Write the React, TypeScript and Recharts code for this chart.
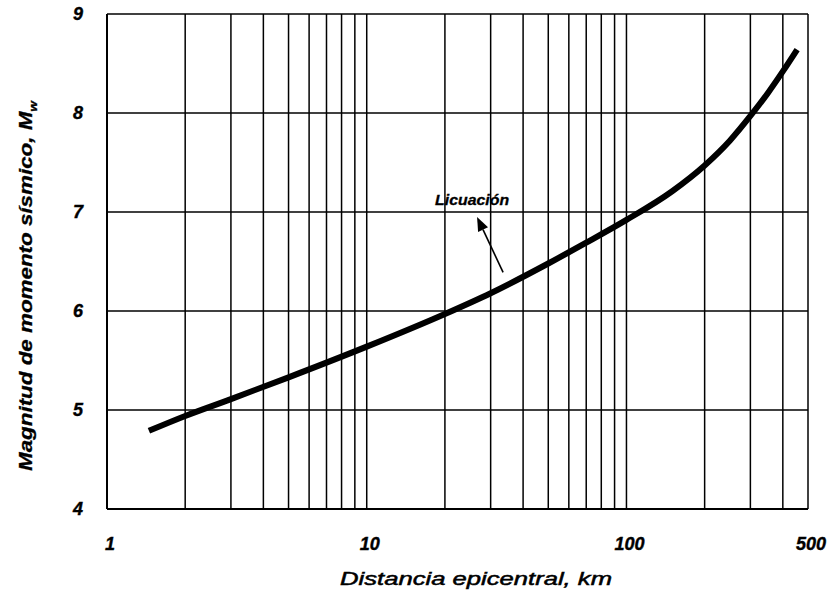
import { LineChart, Line, XAxis, YAxis, CartesianGrid, ReferenceLine } from "recharts";

// distance (km) vs. magnitude
const distances = [1.45, 2, 3, 5, 10, 20, 30, 50, 70, 100, 150, 200, 250, 300, 350, 400, 454];
const magnitudes = [4.79, 4.94, 5.11, 5.33, 5.64, 5.97, 6.18, 6.48, 6.69, 6.92, 7.21, 7.47, 7.72, 7.97, 8.2, 8.42, 8.64];

const gridX = [1, 2, 3, 4, 5, 6, 7, 8, 9, 10, 20, 30, 40, 50, 60, 70, 80, 90, 100, 200, 300, 400, 500];
const labelledX = [1, 10, 100, 500];
const yTicks = [4, 5, 6, 7, 8, 9];

// arrow from the curve to the "Licuación" note
const arrowFrom = { x: 33.5, y: 6.39 };
const arrowTo = { x: 26.6, y: 6.95 };

const data = distances.map((x, i) => ({ x, m: magnitudes[i] }));

const FONT = "'Liberation Sans', Arial, sans-serif";

const XTick = (props: any) => {
  const { x, payload } = props;
  if (!labelledX.includes(payload.value)) return null;
  return (
    <text
      x={x + 3}
      y={550}
      textAnchor="middle"
      fontFamily={FONT}
      fontSize={18}
      fontWeight="bold"
      fontStyle="italic"
      fill="#000"
      stroke="#000"
      strokeWidth={0.4}
    >
      {payload.value}
    </text>
  );
};

const YTick = (props: any) => {
  const { y, payload } = props;
  return (
    <text
      x={83}
      y={y + 6}
      textAnchor="end"
      fontFamily={FONT}
      fontSize={18}
      fontWeight="bold"
      fontStyle="italic"
      fill="#000"
      stroke="#000"
      strokeWidth={0.4}
    >
      {payload.value}
    </text>
  );
};

const Arrow = (props: any) => {
  const { x1, y1, x2, y2 } = props;
  // head sits at (x2, y2)
  const ang = Math.atan2(y2 - y1, x2 - x1);
  const len = 14;
  const w = 5.5;
  const bx = x2 - len * Math.cos(ang);
  const by = y2 - len * Math.sin(ang);
  const px = -Math.sin(ang) * w;
  const py = Math.cos(ang) * w;
  return (
    <g>
      <line x1={x1} y1={y1} x2={bx} y2={by} stroke="#000" strokeWidth={1.6} />
      <polygon points={`${x2},${y2} ${bx + px},${by + py} ${bx - px},${by - py}`} fill="#000" />
      <text
        x={x2 - 42}
        y={y2 - 12}
        fontFamily={FONT}
        fontSize={14}
        fontWeight="bold"
        fontStyle="italic"
        textLength={74}
        lengthAdjust="spacingAndGlyphs"
        fill="#000"
        stroke="#000"
        strokeWidth={0.3}
      >
        Licuación
      </text>
    </g>
  );
};

export default function App() {
  return (
    <div style={{ position: "absolute", left: 0, top: 0, width: 830, height: 595, background: "#fff" }}>
      <LineChart width={830} height={595} data={data} margin={{ top: 14, right: 22, bottom: 0, left: 0 }}>
        <CartesianGrid stroke="#000" strokeWidth={1.5} />
        <XAxis
          dataKey="x"
          type="number"
          scale="log"
          domain={[1, 500]}
          ticks={gridX}
          interval={0}
          allowDataOverflow
          tick={<XTick />}
          tickLine={false}
          axisLine={{ stroke: "#000", strokeWidth: 2 }}
          height={86}
        />
        <YAxis
          type="number"
          domain={[4, 9]}
          ticks={yTicks}
          interval={0}
          tick={<YTick />}
          tickLine={false}
          axisLine={{ stroke: "#000", strokeWidth: 2 }}
          width={107}
        />
        <ReferenceLine segment={[arrowFrom, arrowTo]} shape={<Arrow />} ifOverflow="visible" />
        <Line
          dataKey="m"
          type="monotone"
          stroke="#000"
          strokeWidth={6}
          dot={false}
          isAnimationActive={false}
        />
        <text
          x={476}
          y={585}
          textAnchor="middle"
          fontFamily={FONT}
          fontSize={18}
          fontStyle="italic"
          textLength={272}
          lengthAdjust="spacingAndGlyphs"
          fill="#000"
          stroke="#000"
          strokeWidth={0.5}
        >
          Distancia epicentral, km
        </text>
        <text
          x={32}
          y={286}
          transform="rotate(-90, 32, 286)"
          textAnchor="middle"
          fontFamily={FONT}
          fontSize={18}
          fontWeight="bold"
          fontStyle="italic"
          textLength={370}
          lengthAdjust="spacingAndGlyphs"
          fill="#000"
          stroke="#000"
          strokeWidth={0.3}
        >
          Magnitud de momento sísmico, M
          <tspan fontSize={11} dy={5}>w</tspan>
        </text>
      </LineChart>
    </div>
  );
}
